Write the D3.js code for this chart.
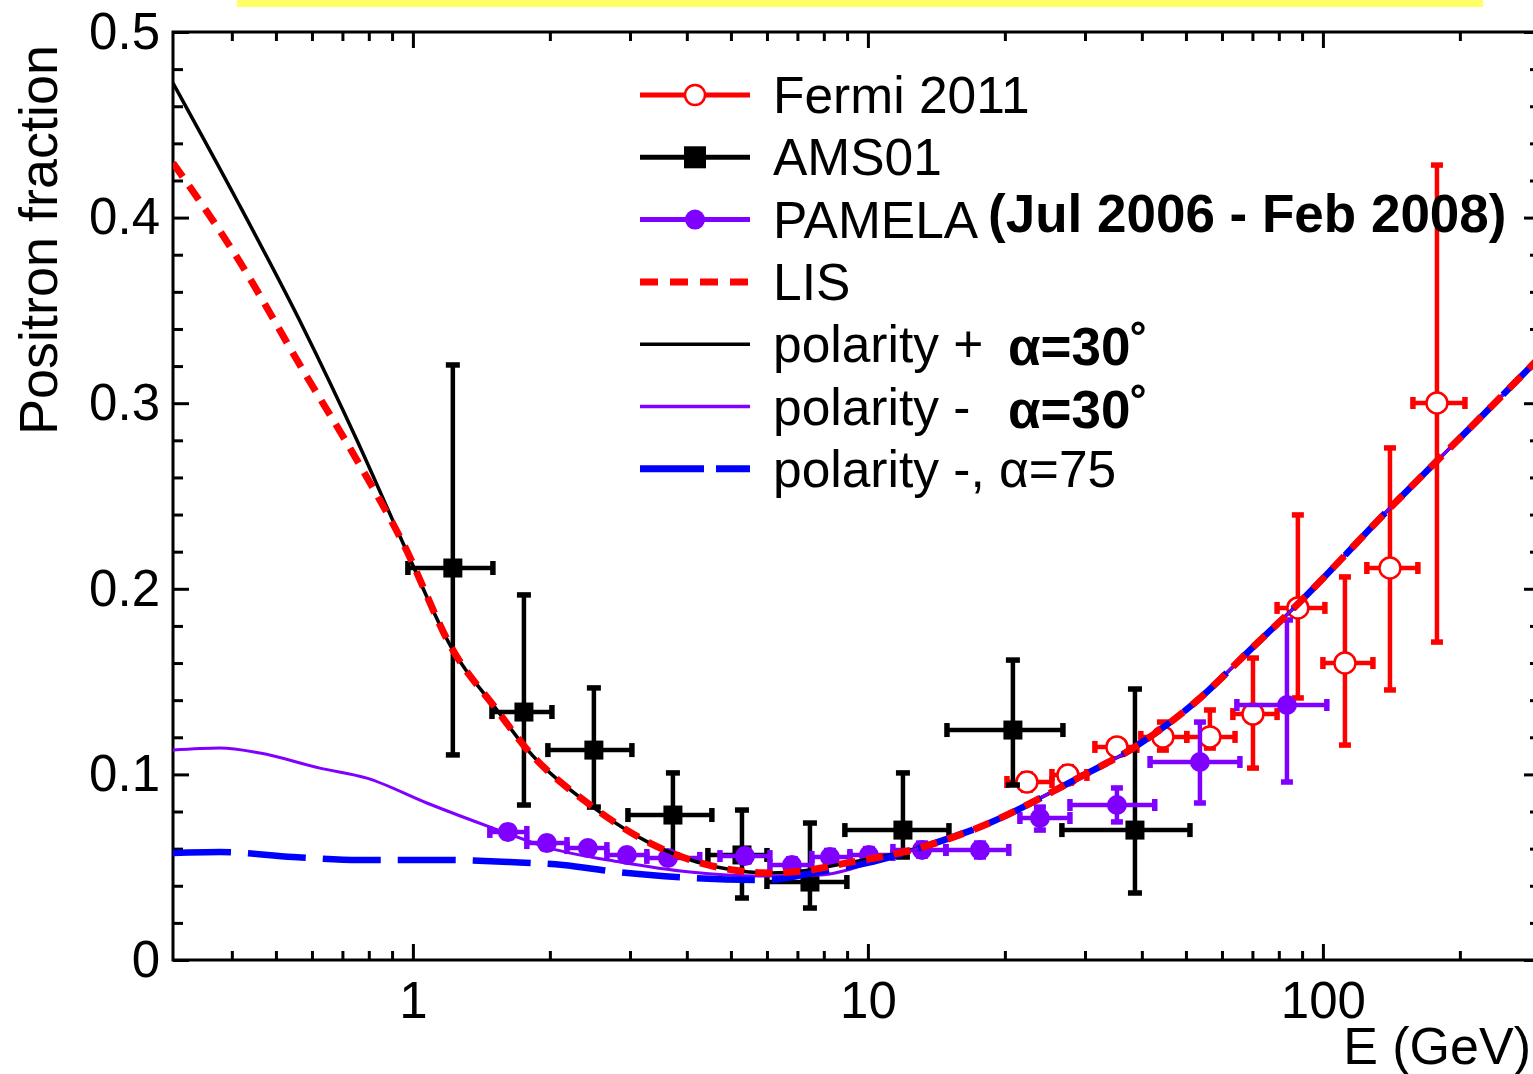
<!DOCTYPE html>
<html>
<head>
<meta charset="utf-8">
<script src="https://cdn.jsdelivr.net/npm/d3@7"></script>
<style>
  body { margin: 0; background: #fff; }
  svg text { font-family: "Liberation Sans", Arial, Helvetica, sans-serif; }
</style>
</head>
<body>
<svg id="chart" width="1533" height="1074"></svg>
<script>
// ---- data ----
// error-bar points: [E, fraction, E low, E high, fraction low, fraction high]
const fermiData = [
  [22.36, 0.0959, 20.21, 25.38, 0.0915, 0.1003],
  [27.52, 0.0997, 25.38, 30.29, 0.0953, 0.1041],
  [35.26, 0.1148, 31.54, 39.01, 0.1105, 0.1185],
  [44.5, 0.1202, 39.8, 50.2, 0.1131, 0.1282],
  [56.45, 0.1202, 50.2, 64.1, 0.1142, 0.1347],
  [70.2, 0.1325, 63.4, 79.3, 0.1034, 0.1627],
  [88.1, 0.1897, 79.3, 101, 0.1412, 0.2398],
  [111.8, 0.16, 100, 128.8, 0.1158, 0.2064],
  [140.4, 0.2112, 124.9, 161.7, 0.1455, 0.2759],
  [178.1, 0.3001, 157.7, 205.2, 0.1713, 0.4283]
];
const amsData = [
  [1.224, 0.2112, 0.975, 1.499, 0.1105, 0.3206],
  [1.754, 0.1336, 1.492, 2.021, 0.0835, 0.1967],
  [2.499, 0.1131, 1.98, 3.029, 0.0824, 0.1466],
  [3.728, 0.0781, 2.969, 4.54, 0.0566, 0.1008],
  [5.287, 0.0566, 4.45, 6.0, 0.0334, 0.0808],
  [7.458, 0.042, 6.0, 8.99, 0.028, 0.0738],
  [11.94, 0.07, 8.9, 15.07, 0.0555, 0.1008],
  [20.83, 0.1239, 14.92, 26.83, 0.0943, 0.1616],
  [38.63, 0.07, 26.69, 51.03, 0.0361, 0.146]
];
const pamelaData = [
  [1.617, 0.069, 1.476, 1.78, 0.066, 0.072],
  [1.97, 0.063, 1.78, 2.181, 0.060, 0.066],
  [2.424, 0.0603, 2.181, 2.669, 0.0575, 0.063],
  [2.953, 0.0566, 2.669, 3.267, 0.054, 0.0595],
  [3.635, 0.055, 3.267, 4.27, 0.052, 0.058],
  [5.367, 0.056, 4.73, 6.09, 0.053, 0.059],
  [6.808, 0.0512, 6.09, 7.53, 0.048, 0.0545],
  [8.253, 0.0555, 7.53, 9.13, 0.052, 0.059],
  [10.05, 0.0566, 9.13, 11.35, 0.053, 0.060],
  [13.15, 0.0593, 11.35, 14.84, 0.056, 0.063],
  [17.63, 0.0593, 14.84, 20.4, 0.0555, 0.063],
  [23.88, 0.0765, 21.58, 27.8, 0.070, 0.0824],
  [35.26, 0.0835, 27.8, 42.7, 0.0744, 0.0927],
  [53.67, 0.1067, 41.7, 65.7, 0.0846, 0.1282],
  [83.36, 0.1374, 64.7, 102, 0.0959, 0.1832]
];

// model curves: [E, fraction]
const polPlusCurve = [
  [0.297, 0.4725], [0.41, 0.4095], [0.573, 0.3411], [0.753, 0.2802], [0.951, 0.2247],
  [1.224, 0.167], [1.53, 0.1347], [1.763, 0.1148], [2.487, 0.0824], [3.318, 0.063],
  [4.209, 0.0528], [5.05, 0.0485], [6.09, 0.0469], [7.458, 0.0485], [8.99, 0.0523],
  [10.63, 0.0555], [13.21, 0.0609], [17.63, 0.0717], [29.24, 0.0986], [38.63, 0.1148],
  [53.1, 0.1401], [69.1, 0.167], [89.0, 0.1929], [140.4, 0.2435], [178.1, 0.2689],
  [224.7, 0.2936], [300, 0.3249]
];
const lisCurve = [
  [0.297, 0.4294], [0.41, 0.3788], [0.573, 0.3179], [0.753, 0.2694], [0.951, 0.2247],
  [1.224, 0.167], [1.53, 0.1347], [1.763, 0.1148], [2.487, 0.0824], [3.318, 0.063],
  [4.209, 0.0528], [5.05, 0.0485], [6.09, 0.0469], [7.458, 0.0485], [8.99, 0.0523],
  [10.63, 0.0555], [13.21, 0.0609], [17.63, 0.0717], [29.24, 0.0986], [38.63, 0.1148],
  [53.1, 0.1401], [69.1, 0.167], [89.0, 0.1929], [140.4, 0.2435], [178.1, 0.2689],
  [224.7, 0.2936], [300, 0.3249]
];
const polMinusCurve = [
  [0.297, 0.1131], [0.3765, 0.1142], [0.4611, 0.1115], [0.6245, 0.1034], [0.7923, 0.098],
  [1.073, 0.0846], [1.499, 0.0711], [2.0, 0.0603], [2.85, 0.0528], [4.063, 0.0474],
  [5.79, 0.0453], [7.85, 0.0458], [10.63, 0.054], [13.21, 0.0609], [17.63, 0.0717],
  [29.24, 0.0986], [38.63, 0.1148], [53.1, 0.1401], [69.1, 0.167], [89.0, 0.1929],
  [140.4, 0.2435], [178.1, 0.2689], [224.7, 0.2936], [300, 0.3249]
];
const polMinus75Curve = [
  [0.297, 0.0577], [0.3765, 0.0582], [0.545, 0.0555], [0.7645, 0.0539], [1.164, 0.0539],
  [1.634, 0.0528], [2.137, 0.0512], [2.808, 0.0474], [4.125, 0.0442], [6.0, 0.0431],
  [7.57, 0.0469], [10.63, 0.0539], [13.21, 0.0609], [17.63, 0.0717], [29.24, 0.0986],
  [38.63, 0.1148], [53.1, 0.1401], [69.1, 0.167], [89.0, 0.1929], [140.4, 0.2435],
  [178.1, 0.2689], [224.7, 0.2936], [300, 0.3249]
];

// ticks
const yMajor = [0, 0.1, 0.2, 0.3, 0.4, 0.5];
const yLabels = ["0", "0.1", "0.2", "0.3", "0.4", "0.5"];
const xMajor = [1, 10, 100];
const xLabels = ["1", "10", "100"];
const xMinor = [0.4, 0.5, 0.6, 0.7, 0.8, 0.9, 2, 3, 4, 5, 6, 7, 8, 9,
                20, 30, 40, 50, 60, 70, 80, 90, 200, 300];
const yMinor = d3.range(1, 25).map(i => i * 0.02).filter((d, i) => (i + 1) % 5 != 0);

const legendLabels = ["Fermi 2011", "AMS01", "PAMELA", "LIS", "polarity +", "polarity -", "polarity -, \u03b1=75"];

const RED = "#ff0000", PURPLE = "#8000ff", BLUE = "#0000ff";

// ---- scales ----
const plotLeft = 173, plotRight = 1540, plotTop = 32, plotBottom = 960;
const x = d3.scaleLog().domain([0.297, 300]).range([plotLeft, plotRight]);
const y = d3.scaleLinear().domain([0, 0.5]).range([plotBottom, plotTop]);

const svg = d3.select("#chart");

// yellow strip at the top
svg.append("rect")
  .attr("x", 237).attr("y", 0)
  .attr("width", 1246).attr("height", 7)
  .attr("fill", "#ffff66");

svg.append("defs").append("clipPath").attr("id", "plotclip")
  .append("rect")
    .attr("x", plotLeft).attr("y", plotTop)
    .attr("width", plotRight - plotLeft).attr("height", plotBottom - plotTop);

// ---- axes ----
function styleAxis(g) {
  g.select(".domain").remove();
  g.selectAll("line").attr("stroke", "#000").attr("stroke-width", 3);
  g.attr("font-size", 51).attr("font-family", null);
  g.selectAll("text").attr("fill", "#000");
}

svg.append("g").attr("transform", `translate(${plotLeft},0)`)
  .call(d3.axisLeft(y).tickValues(yMajor).tickFormat((d, i) => yLabels[i]).tickSize(-16).tickPadding(13))
  .call(styleAxis);
svg.append("g").attr("transform", `translate(${plotLeft},0)`)
  .call(d3.axisLeft(y).tickValues(yMinor).tickFormat("").tickSize(-10))
  .call(styleAxis);
svg.append("g").attr("transform", `translate(${plotRight},0)`)
  .call(d3.axisRight(y).tickValues(yMajor).tickFormat("").tickSize(-16))
  .call(styleAxis);
svg.append("g").attr("transform", `translate(${plotRight},0)`)
  .call(d3.axisRight(y).tickValues(yMinor).tickFormat("").tickSize(-10))
  .call(styleAxis);

svg.append("g").attr("transform", `translate(0,${plotBottom})`)
  .call(d3.axisBottom(x).tickValues(xMajor).tickFormat((d, i) => xLabels[i]).tickSize(-16).tickPadding(22))
  .call(styleAxis);
svg.append("g").attr("transform", `translate(0,${plotBottom})`)
  .call(d3.axisBottom(x).tickValues(xMinor).tickFormat("").tickSize(-9))
  .call(styleAxis);
svg.append("g").attr("transform", `translate(0,${plotTop})`)
  .call(d3.axisTop(x).tickValues(xMajor).tickFormat("").tickSize(-16))
  .call(styleAxis);
svg.append("g").attr("transform", `translate(0,${plotTop})`)
  .call(d3.axisTop(x).tickValues(xMinor).tickFormat("").tickSize(-9))
  .call(styleAxis);

svg.append("rect")
  .attr("x", plotLeft).attr("y", plotTop)
  .attr("width", plotRight - plotLeft).attr("height", plotBottom - plotTop)
  .attr("fill", "none").attr("stroke", "#000").attr("stroke-width", 3);

// axis titles
svg.append("text")
  .attr("transform", "translate(57,240) rotate(-90)")
  .attr("text-anchor", "middle")
  .attr("font-size", 54)
  .text("Positron fraction");
svg.append("text")
  .attr("x", 1531).attr("y", 1064)
  .attr("text-anchor", "end")
  .attr("font-size", 52)
  .text("E (GeV)");

// ---- plot ----
const plot = svg.append("g").attr("clip-path", "url(#plotclip)");

function drawErrors(data, color, cap) {
  const g = plot.append("g").attr("stroke", color);
  g.append("g").selectAll("line").data(data).join("line")
    .attr("stroke-width", 4.5)
    .attr("x1", d => x(d[0])).attr("x2", d => x(d[0]))
    .attr("y1", d => y(d[4])).attr("y2", d => y(d[5]));
  g.append("g").selectAll("line").data(data).join("line")
    .attr("stroke-width", 4.5)
    .attr("x1", d => x(d[2])).attr("x2", d => x(d[3]))
    .attr("y1", d => y(d[1])).attr("y2", d => y(d[1]));
  // caps
  [4, 5].forEach(k => {
    g.append("g").selectAll("line").data(data).join("line")
      .attr("stroke-width", 5.5)
      .attr("x1", d => x(d[0]) - cap).attr("x2", d => x(d[0]) + cap)
      .attr("y1", d => y(d[k])).attr("y2", d => y(d[k]));
  });
  [2, 3].forEach(k => {
    g.append("g").selectAll("line").data(data).join("line")
      .attr("stroke-width", 5.5)
      .attr("x1", d => x(d[k])).attr("x2", d => x(d[k]))
      .attr("y1", d => y(d[1]) - cap).attr("y2", d => y(d[1]) + cap);
  });
  return g.append("g");
}

drawErrors(fermiData, RED, 6)
  .selectAll("circle").data(fermiData).join("circle")
    .attr("cx", d => x(d[0])).attr("cy", d => y(d[1]))
    .attr("r", 10.5).attr("fill", "#fff").attr("stroke-width", 2.5);

drawErrors(amsData, "#000", 7)
  .selectAll("rect").data(amsData).join("rect")
    .attr("x", d => x(d[0]) - 9.5).attr("y", d => y(d[1]) - 9.5)
    .attr("width", 19).attr("height", 19).attr("fill", "#000").attr("stroke", "none");

drawErrors(pamelaData, PURPLE, 6)
  .selectAll("circle").data(pamelaData).join("circle")
    .attr("cx", d => x(d[0])).attr("cy", d => y(d[1]))
    .attr("r", 10).attr("fill", PURPLE).attr("stroke", "none");

const line = d3.line()
  .x(d => x(d[0]))
  .y(d => y(d[1]))
  .curve(d3.curveMonotoneX);

plot.append("path").datum(polPlusCurve)
  .attr("d", line).attr("fill", "none")
  .attr("stroke", "#000").attr("stroke-width", 3.5);
plot.append("path").datum(polMinusCurve)
  .attr("d", line).attr("fill", "none")
  .attr("stroke", PURPLE).attr("stroke-width", 3);
plot.append("path").datum(polMinus75Curve)
  .attr("d", line).attr("fill", "none")
  .attr("stroke", BLUE).attr("stroke-width", 6.5)
  .attr("stroke-dasharray", "58,17");
plot.append("path").datum(lisCurve)
  .attr("d", line).attr("fill", "none")
  .attr("stroke", RED).attr("stroke-width", 7)
  .attr("stroke-dasharray", "17,11");

// ---- legend ----
const legend = svg.append("g");
const rowY = i => 95 + i * 62.3;
const lx0 = 640, lx1 = 750, lmid = 695;

legendLabels.forEach((lab, i) => {
  legend.append("text")
    .attr("x", 773).attr("y", rowY(i) + 18)
    .attr("font-size", 51.5)
    .text(lab);
});
const legendStyles = [
  { color: RED, w: 5, dash: null },
  { color: "#000", w: 5, dash: null },
  { color: PURPLE, w: 5, dash: null },
  { color: RED, w: 7, dash: "18,12" },
  { color: "#000", w: 3.5, dash: null },
  { color: PURPLE, w: 3.5, dash: null },
  { color: BLUE, w: 7, dash: "64,12" }
];
legendStyles.forEach((s, i) => {
  legend.append("line")
    .attr("x1", lx0).attr("x2", lx1)
    .attr("y1", rowY(i)).attr("y2", rowY(i))
    .attr("stroke", s.color).attr("stroke-width", s.w)
    .attr("stroke-dasharray", s.dash);
});
legend.append("circle").attr("cx", lmid).attr("cy", rowY(0)).attr("r", 10)
  .attr("fill", "#fff").attr("stroke", RED).attr("stroke-width", 2.5);
legend.append("rect").attr("x", lmid - 11).attr("y", rowY(1) - 11)
  .attr("width", 22).attr("height", 22).attr("fill", "#000");
legend.append("circle").attr("cx", lmid).attr("cy", rowY(2)).attr("r", 10)
  .attr("fill", PURPLE);

// bold annotations
svg.append("text")
  .attr("x", 988).attr("y", 232)
  .attr("font-size", 53).attr("font-weight", "bold")
  .text("(Jul 2006 - Feb 2008)");
["\u03b1=30\u02da", "\u03b1=30\u02da"].forEach((t, i) => {
  svg.append("text")
    .attr("x", 1008).attr("y", 365 + i * 63)
    .attr("font-size", 53).attr("font-weight", "bold")
    .text(t);
});
</script>
</body>
</html>
